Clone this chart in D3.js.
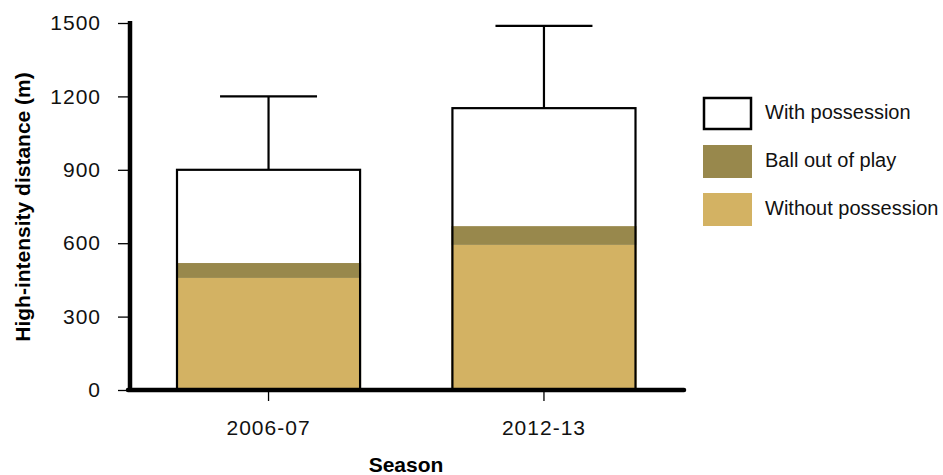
<!DOCTYPE html>
<html><head><meta charset="utf-8">
<script src="https://cdn.jsdelivr.net/npm/d3@7"></script>
<style>
body{margin:0;background:#fff;}
text{font-family:"Liberation Sans Narrow","Arial Narrow","Liberation Sans",sans-serif;}
</style></head>
<body><svg id="c" width="943" height="475"></svg>
<script>
const seasons = ["2006-07","2012-13"];
const withoutPossession = [458, 593];
const ballOutOfPlay = [61, 77];
const withPossession = [381, 482];
const errorTop = [1200, 1488];
const yTicks = [0,300,600,900,1200,1500];
const seriesNames = ["With possession","Ball out of play","Without possession"];
const seriesColors = ["#ffffff","#98884c","#d3b263"];

const svg = d3.select("#c");
const x = d3.scaleBand().domain(seasons).range([130,682.5]).paddingInner(0.328).paddingOuter(0.167);
const y = d3.scaleLinear().domain([0,1500]).range([390,23]);

const stackData = seasons.map((s,i)=>({season:s, without:withoutPossession[i], ball:ballOutOfPlay[i], with:withPossession[i]}));
const stack = d3.stack().keys(["without","ball","with"])(stackData);
const fills = {without:seriesColors[2], ball:seriesColors[1], with:seriesColors[0]};

// error bars
seasons.forEach((s,i)=>{
  const total = withoutPossession[i]+ballOutOfPlay[i]+withPossession[i];
  const cx = x(s)+x.bandwidth()/2;
  const cw = x.bandwidth()*0.262;
  svg.append("line").attr("x1",cx).attr("x2",cx).attr("y1",y(total)).attr("y2",y(errorTop[i])).attr("stroke","#000").attr("stroke-width",2.2);
  svg.append("line").attr("x1",cx-cw).attr("x2",cx+cw).attr("y1",y(errorTop[i])).attr("y2",y(errorTop[i])).attr("stroke","#000").attr("stroke-width",2.2);
});

stack.forEach(layer=>{
  svg.append("g").selectAll("rect").data(layer).join("rect")
    .attr("x",d=>x(d.data.season)).attr("width",x.bandwidth())
    .attr("y",d=>y(d[1])).attr("height",d=>y(d[0])-y(d[1]))
    .attr("fill",fills[layer.key]);
});
// bar outlines
seasons.forEach((s,i)=>{
  const total = withoutPossession[i]+ballOutOfPlay[i]+withPossession[i];
  svg.append("rect").attr("x",x(s)+1).attr("width",x.bandwidth()-2)
    .attr("y",y(total)).attr("height",y(0)-y(total))
    .attr("fill","none").attr("stroke","#000").attr("stroke-width",2.2);
});

// y axis
const ya = svg.append("g").attr("transform","translate(130,0)")
  .call(d3.axisLeft(y).tickValues(yTicks).tickSize(12).tickPadding(17).tickFormat(d3.format("d")));
ya.select(".domain").remove();
ya.selectAll(".tick line").attr("stroke-width",1.3);
ya.selectAll(".tick text").attr("font-size",21).attr("letter-spacing",1).attr("fill","#111").style("font-family","'Liberation Sans',sans-serif");

// x axis
const xa = svg.append("g").attr("transform","translate(0,390)")
  .call(d3.axisBottom(x).tickSize(11).tickPadding(19));
xa.select(".domain").remove();
xa.selectAll(".tick line").attr("stroke-width",1.3);
xa.selectAll(".tick text").attr("font-size",21).attr("letter-spacing",1).attr("fill","#111").style("font-family","'Liberation Sans',sans-serif");

// thick axis lines
svg.append("line").attr("x1",130).attr("x2",130).attr("y1",21).attr("y2",392).attr("stroke","#000").attr("stroke-width",4.5);
svg.append("line").attr("x1",128).attr("x2",684).attr("y1",390).attr("y2",390).attr("stroke","#000").attr("stroke-width",4.5).attr("stroke-linecap","round");

// titles
svg.append("text").attr("x",406).attr("y",472).attr("text-anchor","middle").attr("font-size",21).attr("font-weight","bold").text("Season");
svg.append("text").attr("transform","translate(30,207) rotate(-90)").attr("text-anchor","middle").attr("font-size",21).attr("font-weight","bold").text("High-intensity distance (m)");

// legend
const lg = svg.append("g");
seriesNames.forEach((n,i)=>{
  const yy = 97 + i*48;
  const r = lg.append("rect").attr("x", i===0?704:703).attr("y", i===0?yy+1:yy).attr("width", i===0?47:49).attr("height", i===0?31:33).attr("fill",seriesColors[i]);
  if(i===0) r.attr("stroke","#000").attr("stroke-width",2.5);
  lg.append("text").attr("x",765).attr("y",yy+22).attr("font-size",20).attr("fill","#111").style("font-family","'Liberation Sans',sans-serif").text(n);
});
</script></body></html>
